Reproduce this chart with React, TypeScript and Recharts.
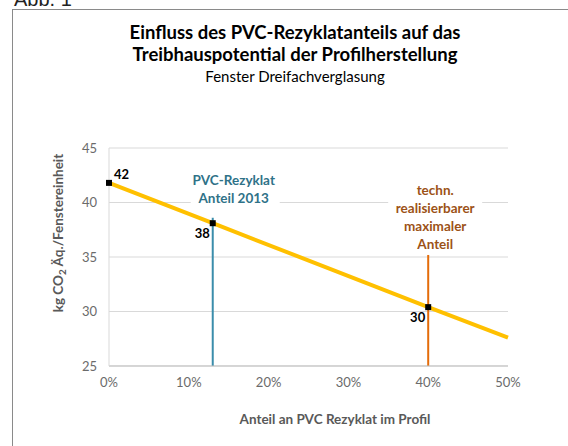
import React from "react";
import { LineChart, Line, XAxis, YAxis, CartesianGrid, ReferenceLine } from "recharts";

// Anteil Rezyklat (%) und Treibhauspotential (kg CO2 Äq. je Fenstereinheit)
const shares = [0, 13, 40, 50];
const emissions = [41.8, 38.1, 30.4, 27.6];
const marked = [true, true, true, false];

const xTicks = [0, 10, 20, 30, 40, 50];
const yTicks = [25, 30, 35, 40, 45];

const share2013 = 13;
const share2013Top = 38.6;
const shareMax = 40;
const shareMaxTop = 35.2;
const label2013 = ["PVC-Rezyklat", "Anteil 2013"];
const labelMax = ["techn.", "realisierbarer", "maximaler", "Anteil"];

const FONT = "Lato, 'Open Sans', sans-serif";
const data = shares.map((s, i) => ({ share: s, value: emissions[i] }));

const SquareDot = (props: any) => {
  const { cx, cy, index } = props;
  if (!marked[index]) return <g key={`d${index}`} />;
  return <rect key={`d${index}`} x={cx - 3} y={cy - 3} width={6} height={6} fill="#000" />;
};

const PointLabel = (props: any) => {
  const { x, y, index, value } = props;
  if (!marked[index]) return <g key={`l${index}`} />;
  const first = index === 0;
  return (
    <text
      key={`l${index}`}
      x={first ? x + 5 : x - 3}
      y={first ? y - 4 : y + 15}
      textAnchor={first ? "start" : "end"}
      fontFamily={FONT}
      fontWeight="bold"
      fontSize={13}
      fill="#000"
    >
      {Math.round(value)}
    </text>
  );
};

const Annotation = ({ viewBox, lines, color, dx, boxLeft, boxRight, gap, lineHeight }: any) => {
  const x = viewBox.x;
  const top = viewBox.y;
  const n = lines.length;
  const lastBase = top - gap;
  const firstBase = lastBase - (n - 1) * lineHeight;
  return (
    <g>
      <rect
        x={x + boxLeft}
        y={firstBase - 14}
        width={boxRight - boxLeft}
        height={lastBase - firstBase + 20}
        fill="#fff"
      />
      {lines.map((t: string, i: number) => (
        <text
          key={t}
          x={x + dx}
          y={firstBase + i * lineHeight}
          textAnchor="middle"
          fontFamily={FONT}
          fontWeight="bold"
          fontSize={13.5}
          fill={color}
        >
          {t}
        </text>
      ))}
    </g>
  );
};

export default function App() {
  return (
    <div
      style={{
        position: "absolute",
        left: 0,
        top: 0,
        width: 568,
        height: 446,
        overflow: "hidden",
        background: "#fff",
        fontFamily: FONT,
      }}
    >
      <div style={{ position: "absolute", left: 14, top: -12, fontSize: 20, color: "#222", fontFamily: "'Liberation Sans', sans-serif" }}>
        Abb. 1
      </div>
      <div
        style={{
          position: "absolute",
          left: 12,
          top: 9,
          width: 600,
          height: 500,
          border: "1px solid #8a8a8a",
        }}
      />
      <div
        style={{
          position: "absolute",
          left: 45,
          width: 500,
          top: 21,
          textAlign: "center",
          color: "#000",
        }}
      >
        <div style={{ fontSize: 18.5, fontWeight: "bold", lineHeight: "22px" }}>
          Einfluss des PVC-Rezyklatanteils auf das
        </div>
        <div style={{ fontSize: 18.5, fontWeight: "bold", lineHeight: "22px" }}>
          Treibhauspotential der Profilherstellung
        </div>
        <div style={{ fontSize: 15, lineHeight: "22px" }}>Fenster Dreifachverglasung</div>
      </div>
      <div style={{ position: "absolute", left: 0, top: 0 }}>
        <LineChart
          width={568}
          height={446}
          data={data}
          margin={{ top: 148, right: 60, bottom: 50, left: 69 }}
        >
          <CartesianGrid vertical={false} stroke="#d9d9d9" />
          <XAxis
            type="number"
            dataKey="share"
            domain={[0, 50]}
            ticks={xTicks}
            tickFormatter={(v: number) => `${v}%`}
            tickLine={false}
            axisLine={{ stroke: "#bfbfbf" }}
            tick={{ fill: "#6b6b6b", fontSize: 13, fontFamily: FONT }}
            tickMargin={6}
            height={30}
            label={(p: any) => (
              <text
                x={335}
                y={p.viewBox.y + 58}
                textAnchor="middle"
                fontFamily={FONT}
                fontWeight="bold"
                fontSize={13.5}
                fill="#595959"
              >
                Anteil an PVC Rezyklat im Profil
              </text>
            )}
          />
          <YAxis
            type="number"
            domain={[25, 45]}
            ticks={yTicks}
            tickLine={false}
            axisLine={{ stroke: "#d9d9d9" }}
            tick={{ fill: "#6b6b6b", fontSize: 13, fontFamily: FONT }}
            tickMargin={6}
            width={40}
            label={(p: any) => {
              const cx = 63;
              const cy = p.viewBox.y + 85;
              return (
                <text
                  x={cx}
                  y={cy}
                  transform={`rotate(-90 ${cx} ${cy})`}
                  textAnchor="middle"
                  fontFamily={FONT}
                  fontWeight="bold"
                  fontSize={13.5}
                  fill="#595959"
                >
                  <tspan>kg CO</tspan>
                  <tspan dy={3} fontSize={10}>2</tspan>
                  <tspan dy={-3}> Äq./Fenstereinheit</tspan>
                </text>
              );
            }}
          />
          <ReferenceLine
            segment={[
              { x: share2013, y: 25 },
              { x: share2013, y: share2013Top },
            ]}
            stroke="#3b8dab"
            strokeWidth={2}
            label={(p: any) => (
              <Annotation
                viewBox={p.viewBox}
                lines={label2013}
                color="#2f7288"
                dx={21}
                boxLeft={-22}
                boxRight={67}
                gap={15}
                lineHeight={18}
              />
            )}
          />
          <ReferenceLine
            segment={[
              { x: shareMax, y: 25 },
              { x: shareMax, y: shareMaxTop },
            ]}
            stroke="#e46c0a"
            strokeWidth={2}
            label={(p: any) => (
              <Annotation
                viewBox={p.viewBox}
                lines={labelMax}
                color="#9c5217"
                dx={7}
                boxLeft={-40}
                boxRight={54}
                gap={6}
                lineHeight={18}
              />
            )}
          />
          <Line
            type="linear"
            dataKey="value"
            stroke="#ffc000"
            strokeWidth={4}
            dot={SquareDot}
            activeDot={false}
            label={PointLabel}
            isAnimationActive={false}
          />
        </LineChart>
      </div>
    </div>
  );
}
